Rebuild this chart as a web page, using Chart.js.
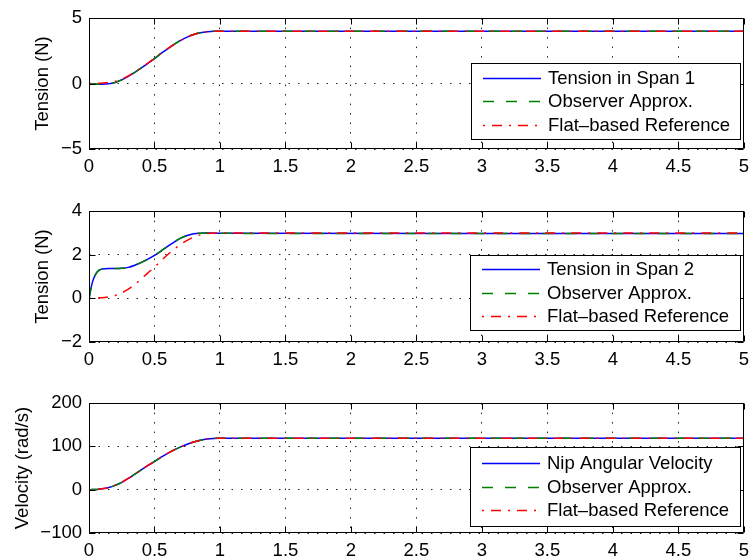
<!DOCTYPE html>
<html>
<head>
<meta charset="utf-8">
<script src="https://cdn.jsdelivr.net/npm/chart.js@4.4.0/dist/chart.umd.min.js"></script>
<style>
  body { margin: 0; background: #fff; }
  #fig { position: relative; width: 756px; height: 560px; overflow: hidden; }
  #fig canvas { position: absolute; left: 0; }
</style>
</head>
<body>
<div id="fig">
  <canvas id="span1" width="756" height="175" style="top:0px"></canvas>
  <canvas id="span2" width="756" height="175" style="top:193px"></canvas>
  <canvas id="nip" width="756" height="174" style="top:385px"></canvas>
</div>
<script>
// ==================== DATA ====================
// shared time base (s), denser near t = 0 where span 2 jumps
const timeS = [0, 0.025, 0.05, 0.075, 0.1, 0.15, 0.2, 0.25, 0.3, 0.35, 0.4, 0.45,
               0.5, 0.55, 0.6, 0.65, 0.7, 0.75, 0.8, 0.85, 0.9, 0.95, 1.0, 5.0];

// span 1 tension (N)
const span1Tension  = [0, -0.02, -0.04, -0.05, -0.05, -0.02, 0.08, 0.28, 0.55, 0.85, 1.2, 1.55,
                       1.9, 2.3, 2.65, 3.0, 3.3, 3.55, 3.75, 3.88, 3.96, 4.0, 4.0, 4.0];
const span1Observer = [0, -0.02, -0.04, -0.05, -0.04, -0.01, 0.09, 0.29, 0.56, 0.86, 1.21, 1.56,
                       1.91, 2.3, 2.66, 3.0, 3.3, 3.55, 3.75, 3.88, 3.96, 4.0, 4.0, 4.0];
const span1FlatRef  = [0, 0, 0.01, 0.02, 0.04, 0.09, 0.17, 0.33, 0.58, 0.88, 1.22, 1.57,
                       1.92, 2.3, 2.66, 3.0, 3.3, 3.55, 3.75, 3.88, 3.96, 4.0, 4.0, 4.0];

// span 2 tension (N)
const span2Tension  = [0, 0.72, 1.1, 1.28, 1.35, 1.37, 1.37, 1.38, 1.42, 1.52, 1.65, 1.8,
                       1.97, 2.17, 2.38, 2.58, 2.76, 2.88, 2.96, 2.99, 3.0, 2.99, 2.98, 2.97];
const span2Observer = [0, 0.7, 1.09, 1.28, 1.35, 1.37, 1.37, 1.38, 1.42, 1.52, 1.65, 1.8,
                       1.97, 2.17, 2.38, 2.58, 2.76, 2.88, 2.96, 2.99, 3.0, 2.99, 2.98, 2.97];
const span2FlatRef  = [0, 0, 0.01, 0.02, 0.03, 0.07, 0.13, 0.25, 0.42, 0.64, 0.9, 1.17,
                       1.43, 1.72, 2.0, 2.25, 2.48, 2.66, 2.81, 2.91, 2.97, 3.0, 3.0, 3.0];

// nip angular velocity (rad/s)
const nipVelocity   = [0, 0.2, 0.5, 1.1, 2, 5, 10, 17, 26, 36, 46, 56,
                       65, 75, 84, 92, 99, 105, 110, 114, 117, 118.5, 119, 119];
const nipObserver   = [0, 0.2, 0.5, 1.1, 2, 5, 10, 17, 26, 36, 46, 56,
                       65, 75, 84, 92, 99, 105, 110, 114, 117, 118.5, 119, 119];
const nipFlatRef    = [0, 0.2, 0.6, 1.2, 2.2, 5.2, 10.2, 17.2, 26, 36, 46, 56,
                       65, 75, 84, 92, 99, 105, 110, 114, 117, 118.5, 119, 119];

// ticks
const xTicks     = [0, 0.5, 1, 1.5, 2, 2.5, 3, 3.5, 4, 4.5, 5];
const span1Ticks = [-5, 0, 5];
const span2Ticks = [-2, 0, 2, 4];
const nipTicks   = [-100, 0, 100, 200];

// legend names
const span1Names = ['Tension in Span 1', 'Observer Approx.', 'Flat\u2013based Reference'];
const span2Names = ['Tension in Span 2', 'Observer Approx.', 'Flat\u2013based Reference'];
const nipNames   = ['Nip Angular Velocity', 'Observer Approx.', 'Flat\u2013based Reference'];

// ==================== STYLE ====================
const FONT_FAMILY = "'Liberation Sans', Arial, Helvetica, sans-serif";
const FONT_SIZE = 18.5;
const TICK_LEN = 6;
const lineColors = ['#0000ff', '#008000', '#ff0000'];
const lineDashes = [[], [11, 12], [2, 7, 10, 7]];

Chart.defaults.color = '#000';
Chart.defaults.font.family = FONT_FAMILY;
Chart.defaults.font.size = FONT_SIZE;

const minusSign = v => String(v).replace('-', '\u2212');

// ==================== AXES BOX + LEGEND ====================
const axesBox = {
    id: 'axesBox',
    afterDatasetsDraw(chart) {
        const { ctx, chartArea: a, scales: { x, y } } = chart;
        const L = Math.round(a.left) + 0.5, R = Math.round(a.right) - 0.5;
        const T = Math.round(a.top) + 0.5, B = Math.round(a.bottom) - 0.5;
        ctx.save();
        ctx.strokeStyle = '#000';
        ctx.lineWidth = 1;
        ctx.setLineDash([]);
        ctx.beginPath();
        ctx.rect(L, T, R - L, B - T);
        // inward tick marks on all four sides
        x.ticks.forEach(t => {
            const px = Math.round(x.getPixelForValue(t.value)) + 0.5;
            ctx.moveTo(px, B); ctx.lineTo(px, B - TICK_LEN);
            ctx.moveTo(px, T); ctx.lineTo(px, T + TICK_LEN);
        });
        y.ticks.forEach(t => {
            const py = Math.round(y.getPixelForValue(t.value)) + 0.5;
            ctx.moveTo(L, py); ctx.lineTo(L + TICK_LEN, py);
            ctx.moveTo(R, py); ctx.lineTo(R - TICK_LEN, py);
        });
        ctx.stroke();
        ctx.restore();
    },
    afterDraw(chart, args, opts) {
        const { ctx, chartArea: a } = chart;
        const right = Math.round(a.right) - 4;
        const left = right - opts.width;
        const bottom = Math.round(a.bottom) - opts.gap;
        const top = bottom - opts.height;
        const rowH = 23.5;
        const mid = (top + bottom) / 2;

        ctx.save();
        ctx.fillStyle = '#fff';
        ctx.fillRect(left, top, opts.width, opts.height);
        ctx.strokeStyle = '#000';
        ctx.lineWidth = 1;
        ctx.strokeRect(left + 0.5, top + 0.5, opts.width, opts.height);

        chart.data.datasets.forEach((ds, i) => {
            const yRow = Math.round(mid + (i - 1) * rowH) + 0.5;
            ctx.strokeStyle = lineColors[i];
            ctx.lineWidth = 1.5;
            ctx.setLineDash(lineDashes[i]);
            ctx.beginPath();
            ctx.moveTo(left + 12, yRow);
            ctx.lineTo(left + 70, yRow);
            ctx.stroke();

            ctx.setLineDash([]);
            ctx.fillStyle = '#000';
            ctx.font = FONT_SIZE + 'px ' + FONT_FAMILY;
            ctx.textBaseline = 'middle';
            ctx.textAlign = 'left';
            ctx.fillText(ds.label, left + 77, yRow);
        });
        ctx.restore();
    }
};

// ==================== PANELS ====================
function makePanel(id, yTitle, titlePad, yTicks, series, names, legendBox) {
    return new Chart(document.getElementById(id), {
        type: 'line',
        data: {
            datasets: series.map((vals, i) => ({
                label: names[i],
                data: timeS.map((t, k) => ({ x: t, y: vals[k] })),
                borderColor: lineColors[i],
                borderDash: lineDashes[i],
                borderWidth: 1.5,
                order: series.length - i,   // later traces painted on top
                pointRadius: 0,
                fill: false,
                cubicInterpolationMode: 'monotone'
            }))
        },
        options: {
            responsive: false,
            animation: false,
            events: [],
            layout: { padding: { top: 10, right: 8, left: 0, bottom: 0 } },
            plugins: {
                legend: { display: false },
                tooltip: { enabled: false },
                axesBox: legendBox
            },
            scales: {
                x: {
                    type: 'linear',
                    min: xTicks[0],
                    max: xTicks[xTicks.length - 1],
                    afterBuildTicks: s => { s.ticks = xTicks.map(v => ({ value: v })); },
                    afterFit: s => { s.height = 26; },
                    grid: { color: '#222', lineWidth: 1, drawTicks: false },
                    border: { display: false, dash: [1.5, 8] },
                    ticks: { color: '#000', padding: 7, maxRotation: 0, autoSkip: false, callback: minusSign }
                },
                y: {
                    type: 'linear',
                    min: yTicks[0],
                    max: yTicks[yTicks.length - 1],
                    afterBuildTicks: s => { s.ticks = yTicks.map(v => ({ value: v })); },
                    afterFit: s => { s.width = 89; },
                    grid: { color: '#222', lineWidth: 1, drawTicks: false },
                    border: { display: false, dash: [1.5, 8] },
                    ticks: { color: '#000', padding: 7, autoSkip: false, callback: minusSign },
                    title: {
                        display: true,
                        text: yTitle,
                        color: '#000',
                        padding: { top: titlePad, bottom: 0 }
                    }
                }
            }
        },
        plugins: [axesBox]
    });
}

makePanel('span1', 'Tension (N)', 32, span1Ticks,
    [span1Tension, span1Observer, span1FlatRef], span1Names,
    { width: 269, height: 76, gap: 10 });

makePanel('span2', 'Tension (N)', 32, span2Ticks,
    [span2Tension, span2Observer, span2FlatRef], span2Names,
    { width: 270, height: 75, gap: 12 });

makePanel('nip', 'Velocity (rad/s)', 12, nipTicks,
    [nipVelocity, nipObserver, nipFlatRef], nipNames,
    { width: 270, height: 79, gap: 7 });
</script>
</body>
</html>
